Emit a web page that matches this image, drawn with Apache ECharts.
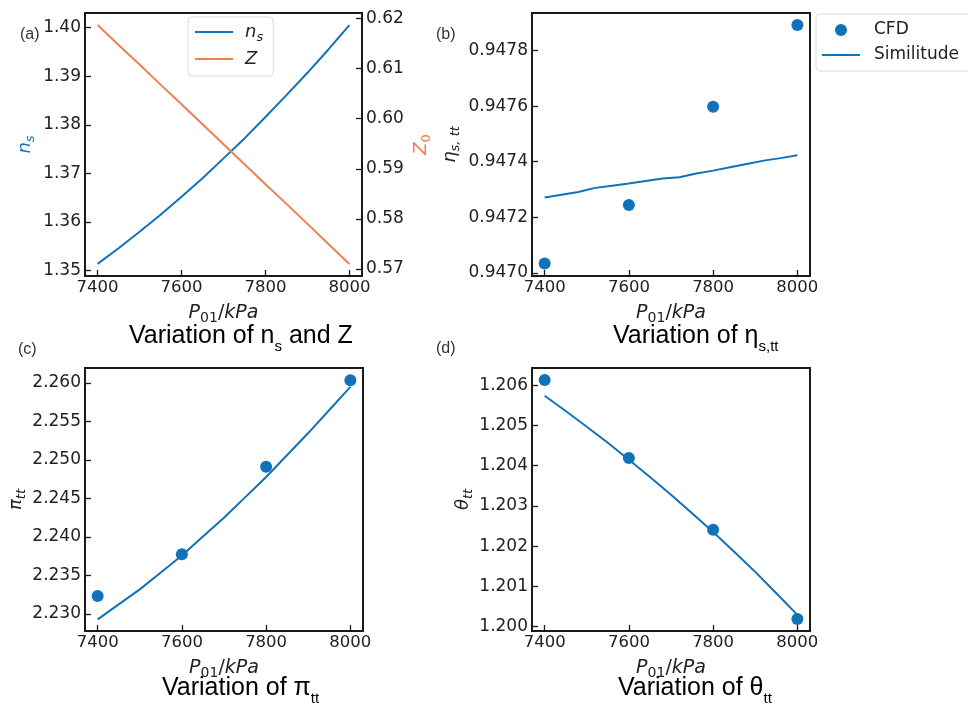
<!DOCTYPE html>
<html>
<head>
<meta charset="utf-8">
<script src="https://cdn.jsdelivr.net/npm/echarts@6/dist/echarts.min.js"></script>
<style>
  html, body { margin: 0; padding: 0; background: #ffffff; }
  #chart { width: 968px; height: 704px; }
</style>
</head>
<body>
<div id="chart"></div>
<script>
// ---- data -------------------------------------------------------------
const pressureTicks = [7400, 7600, 7800, 8000];
const cfdPressure = [7400, 7600, 7800, 8000];

// (a) specific speed n_s and loading Z over inlet pressure
const curvePressure = [7400, 7450, 7500, 7550, 7600, 7650, 7700, 7750, 7800, 7850, 7900, 7950, 8000];
const nsValues = [1.3514, 1.3546, 1.3580, 1.3615, 1.3652, 1.3690, 1.3731, 1.3772, 1.3816, 1.3861, 1.3907, 1.3955, 1.4005];
const zValues = [0.6187, 0.6147, 0.6108, 0.6068, 0.6029, 0.5989, 0.5949, 0.5909, 0.5869, 0.5830, 0.5790, 0.5750, 0.5710];
const nsTicks = [1.35, 1.36, 1.37, 1.38, 1.39, 1.40];
const zTicks = [0.57, 0.58, 0.59, 0.60, 0.61, 0.62];

// (b) total-to-total isentropic efficiency
const effPressure = [7400, 7440, 7480, 7520, 7560, 7600, 7640, 7680, 7720, 7760, 7800, 7840, 7880, 7920, 7960, 8000];
const effSimilitude = [0.947271, 0.947281, 0.947291, 0.947306, 0.947314, 0.947322, 0.947331, 0.947340, 0.947344, 0.947358, 0.947368, 0.947380, 0.947392, 0.947404, 0.947413, 0.947423];
const effCfd = [0.947034, 0.947244, 0.947598, 0.947892];
const effTicks = [0.9470, 0.9472, 0.9474, 0.9476, 0.9478];

// (c) total-to-total pressure ratio
const piSimilitude = [2.2293, 2.23125, 2.2332, 2.2354, 2.2376, 2.24005, 2.2425, 2.24515, 2.2478, 2.25065, 2.2535, 2.2565, 2.2595];
const piCfd = [2.23234, 2.23776, 2.24912, 2.26035];
const piTicks = [2.230, 2.235, 2.240, 2.245, 2.250, 2.255, 2.260];

// (d) total-to-total temperature ratio
const thetaSimilitude = [1.20574, 1.20536, 1.20497, 1.20457, 1.20415, 1.20372, 1.20328, 1.20282, 1.20235, 1.20186, 1.20136, 1.20083, 1.20029];
const thetaCfd = [1.20613, 1.20419, 1.20241, 1.20019];
const thetaTicks = [1.200, 1.201, 1.202, 1.203, 1.204, 1.205, 1.206];

// ---- styling ----------------------------------------------------------
const BLUE = '#0f72bb';
const ORANGE = '#f07f53';
const INK = '#1a1a1a';
const TICK_FONT = 'DejaVu Sans';
const TITLE_FONT = 'Liberation Sans';
const LINE_ICON = 'path://M0,0L38,0L38,2.2L0,2.2Z';

const pairs = (xs, ys) => xs.map((x, i) => [x, ys[i]]);

const mathRich = (color, size) => {
  const big = size || 18;
  const small = Math.round(big * 0.73);
  return {
    i: { fontFamily: TICK_FONT, fontStyle: 'italic', fontSize: big, lineHeight: 24, color },
    si: { fontFamily: TICK_FONT, fontStyle: 'italic', fontSize: small, lineHeight: 14, verticalAlign: 'bottom', color },
    s: { fontFamily: TICK_FONT, fontSize: small, lineHeight: 14, verticalAlign: 'bottom', color },
    n: { fontFamily: TICK_FONT, fontSize: big, lineHeight: 24, color }
  };
};

const grids = [
  { left: 85, top: 13, width: 277, height: 263 },
  { left: 532, top: 13, width: 278, height: 263 },
  { left: 85, top: 368, width: 278, height: 263 },
  { left: 532, top: 368, width: 278, height: 263 }
].map(g => Object.assign({ show: true, borderColor: INK, borderWidth: 2, backgroundColor: '#ffffff' }, g));

function pressureAxis(gridIndex) {
  return {
    type: 'value', gridIndex, min: 7370, max: 8030,
    name: '{i|P}{s|01}{n|/}{i|kPa}',
    nameLocation: 'middle', nameGap: 25,
    nameTextStyle: { rich: mathRich('#222', 19) },
    axisLine: { show: false },
    splitLine: { show: false },
    axisTick: { inside: true, length: 6, customValues: pressureTicks, lineStyle: { color: INK, width: 1.3 } },
    axisLabel: { customValues: pressureTicks, margin: 3, fontFamily: TICK_FONT, fontSize: 16.5, color: '#222',
      formatter: v => String(v) }
  };
}

function valueAxis(gridIndex, min, max, ticks, digits, name, nameColor, nameGap, position) {
  return {
    type: 'value', gridIndex, min, max, position: position || 'left',
    name, nameLocation: 'middle', nameRotate: 90, nameGap,
    nameTextStyle: { rich: mathRich(nameColor) },
    axisLine: { show: false },
    splitLine: { show: false },
    axisTick: { inside: true, length: 6, customValues: ticks, lineStyle: { color: INK, width: 1.3 } },
    axisLabel: { customValues: ticks, margin: 4, fontFamily: TICK_FONT, fontSize: 17, color: '#222',
      formatter: v => Number(v).toFixed(digits) }
  };
}

const xAxes = [0, 1, 2, 3].map(pressureAxis);
const yAxes = [
  valueAxis(0, 1.3489, 1.4030, nsTicks, 2, '{i|n}{si|s}', BLUE, 48),
  valueAxis(0, 0.5686, 0.6211, zTicks, 2, '{i|Z}{s|0}', ORANGE, 47, 'right'),
  valueAxis(1, 0.946989, 0.947935, effTicks, 4, '{i|η}{si|s, tt}', '#222', 70),
  valueAxis(2, 2.22779, 2.26195, piTicks, 3, '{i|π}{si|tt}', '#222', 57),
  valueAxis(3, 1.19989, 1.20643, thetaTicks, 3, '{i|θ}{si|tt}', '#222', 57)
];

const lineSeries = (name, xi, yi, data, color) => ({
  name, type: 'line', xAxisIndex: xi, yAxisIndex: yi, data,
  symbol: 'none', smooth: false, z: 2,
  lineStyle: { color, width: 2 }, itemStyle: { color }
});
const dotSeries = (name, xi, yi, data) => ({
  name, type: 'scatter', xAxisIndex: xi, yAxisIndex: yi, data,
  symbol: 'circle', symbolSize: 12, z: 3, itemStyle: { color: BLUE, opacity: 1 }
});

const series = [
  lineSeries('ns', 0, 0, pairs(curvePressure, nsValues), BLUE),
  lineSeries('Z', 0, 1, pairs(curvePressure, zValues), ORANGE),
  dotSeries('CFD', 1, 2, pairs(cfdPressure, effCfd)),
  lineSeries('Similitude', 1, 2, pairs(effPressure, effSimilitude), BLUE),
  dotSeries('CFD', 2, 3, pairs(cfdPressure, piCfd)),
  lineSeries('Similitude', 2, 3, pairs(curvePressure, piSimilitude), BLUE),
  dotSeries('CFD', 3, 4, pairs(cfdPressure, thetaCfd)),
  lineSeries('Similitude', 3, 4, pairs(curvePressure, thetaSimilitude), BLUE)
];

const legendBox = { borderColor: '#dadada', borderWidth: 1, borderRadius: 4, backgroundColor: '#ffffff' };
const legends = [
  Object.assign({
    data: [{ name: 'ns', icon: LINE_ICON }, { name: 'Z', icon: LINE_ICON }],
    orient: 'vertical', left: 188, top: 17,
    padding: [6, 10, 8, 7], itemWidth: 38, itemHeight: 14, itemGap: 6,
    formatter: n => n === 'ns' ? '{i|n}{si|s}' : '{i|Z}',
    textStyle: { padding: [0, 0, 0, 7], rich: mathRich('#222') }
  }, legendBox),
  Object.assign({
    data: [{ name: 'CFD', icon: 'circle' }, { name: 'Similitude', icon: LINE_ICON }],
    orient: 'vertical', left: 816, top: 14,
    padding: [7, 14, 7, 6], itemWidth: 38, itemHeight: 12, itemGap: 7,
    textStyle: { fontFamily: TICK_FONT, fontSize: 17, lineHeight: 18, color: '#222', padding: [0, 0, 0, 9] }
  }, legendBox)
];

const titleRich = {
  t: { fontFamily: TITLE_FONT, fontSize: 25, lineHeight: 36, color: '#111' },
  s: { fontFamily: TITLE_FONT, fontSize: 15, lineHeight: 14, verticalAlign: 'bottom', color: '#111' }
};
const title = (text, x, y) => ({ type: 'text', x, y, silent: true, style: { text, rich: titleRich } });
const tag = (text, x, y) => ({ type: 'text', x, y, silent: true,
  style: { text, fontFamily: TITLE_FONT, fontSize: 16, fill: '#333', verticalAlign: 'middle' } });

const chart = echarts.init(document.getElementById('chart'), null, { renderer: 'canvas' });
chart.setOption({
  animation: false,
  backgroundColor: '#ffffff',
  grid: grids,
  xAxis: xAxes,
  yAxis: yAxes,
  legend: legends,
  series,
  graphic: [
    title('{t|Variation of n}{s|s}{t| and Z}', 129, 318),
    title('{t|Variation of η}{s|s,tt}', 613, 318),
    title('{t|Variation of π}{s|tt}', 162, 670),
    title('{t|Variation of θ}{s|tt}', 618, 670),
    tag('(a)', 20, 35),
    tag('(b)', 436, 35),
    tag('(c)', 18, 350),
    tag('(d)', 436, 349)
  ]
});
</script>
</body>
</html>
